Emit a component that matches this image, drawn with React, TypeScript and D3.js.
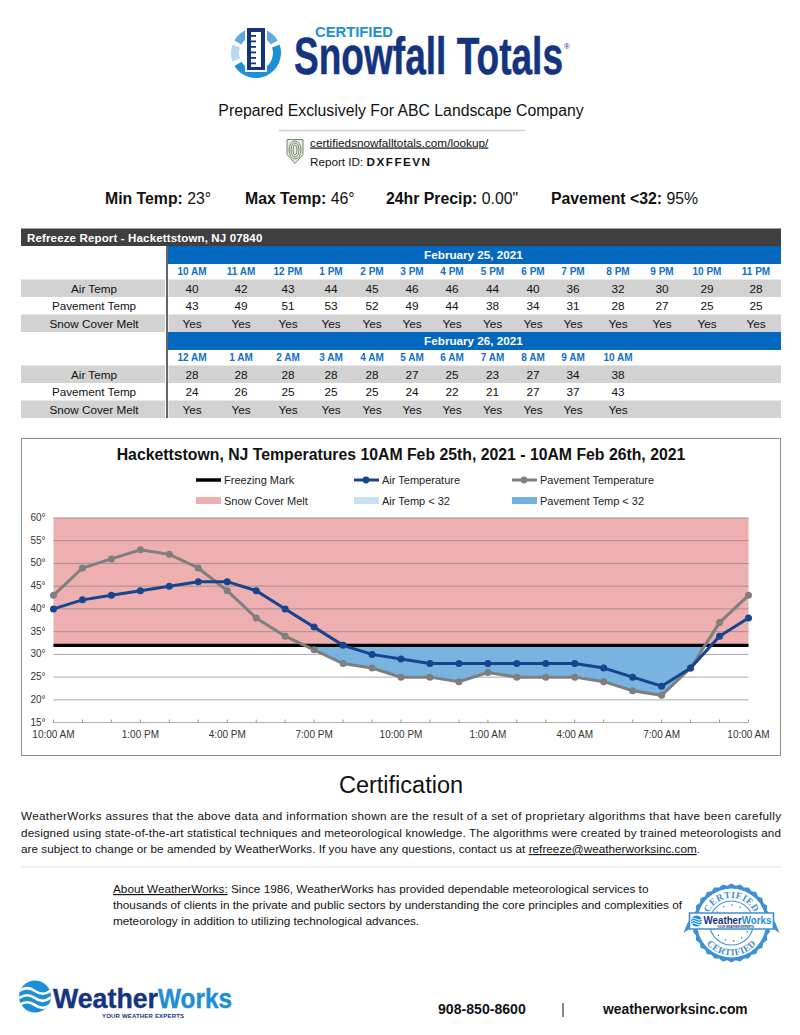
import React from "react";
import * as d3 from "d3";

const hoursAxis = d3.range(0, 25);
const xTickLabels = ["10:00 AM","1:00 PM","4:00 PM","7:00 PM","10:00 PM","1:00 AM","4:00 AM","7:00 AM","10:00 AM"];
const yTicks = [15,20,25,30,35,40,45,50,55,60];
const freezing = 32;

const labelsDay1 = ["10 AM","11 AM","12 PM","1 PM","2 PM","3 PM","4 PM","5 PM","6 PM","7 PM","8 PM","9 PM","10 PM","11 PM"];
const labelsDay2 = ["12 AM","1 AM","2 AM","3 AM","4 AM","5 AM","6 AM","7 AM","8 AM","9 AM","10 AM"];
const airDay1 = [40,42,43,44,45,46,46,44,40,36,32,30,29,28];
const pavementDay1 = [43,49,51,53,52,49,44,38,34,31,28,27,25,25];
const airDay2 = [28,28,28,28,28,27,25,23,27,34,38];
const pavementDay2 = [24,26,25,25,25,24,22,21,27,37,43];
const columnCenters = [192,241,288,331,372,412,452,492.5,533,573,618,662,707,756];

const airAll = [...airDay1, ...airDay2];
const pavementAll = [...pavementDay1, ...pavementDay2];

const x = d3.scaleLinear().domain([0, 24]).range([53.5, 748.5]);
const y = d3.scaleLinear().domain([15, 60]).range([722.6, 518]);

const sans = "Liberation Sans, Arial, sans-serif";
const GRAY = "#d2d2d2";
const BLUE = "#0568bf";
const LABELBLUE = "#0f6fc9";
const NAVY = "#15347f";
const LINE_NAVY = "#17448f";
const PAVE = "#7f7f7f";
const SKY = "#1d8fd6";

function crossing32() {
  const pts: [number, number][] = [];
  for (let i = 0; i < pavementAll.length; i++) {
    const v = pavementAll[i];
    if (i > 0) {
      const p = pavementAll[i - 1];
      if ((p - freezing) * (v - freezing) < 0) {
        pts.push([i - 1 + (freezing - p) / (v - p), freezing]);
      }
    }
    if (v < freezing) pts.push([i, v]);
  }
  return pts;
}

function TableBlock({ top, title, labels, air, pave }: any) {
  const rowLabels = ["Air Temp", "Pavement Temp", "Snow Cover Melt"];
  const rows: (string | number)[][] = [air, pave, labels.map(() => "Yes")];
  const ys = [top + 38, top + 55.5, top + 73];
  return (
    <g fontFamily={sans}>
      <rect x={168} y={top} width={613} height={18} fill={BLUE} />
      <text x={473.5} y={top + 13.2} textAnchor="middle" fontSize={11.7} fontWeight={700} fill="#fff">{title}</text>
      {labels.map((l: string, i: number) => (
        <text key={l + i} x={columnCenters[i]} y={top + 28.5} textAnchor="middle" fontSize={10} fontWeight={700} fill={LABELBLUE}>{l}</text>
      ))}
      {[0, 2].map((r) => (
        <g key={r}>
          <rect x={21} y={ys[r] - 4.5} width={144} height={17.5} fill={GRAY} />
          <rect x={168.5} y={ys[r] - 4.5} width={612.5} height={17.5} fill={GRAY} />
        </g>
      ))}
      {rowLabels.map((l, r) => (
        <text key={l} x={94} y={ys[r] + 8.5} textAnchor="middle" fontSize={11.7} fill="#111">{l}</text>
      ))}
      {rows.map((vals, r) =>
        vals.map((v, i) => (
          <text key={r + "-" + i} x={columnCenters[i]} y={ys[r] + 8.5} textAnchor="middle" fontSize={11.8} fill="#111">{v}</text>
        ))
      )}
    </g>
  );
}

function SnowfallLogo() {
  const arc = d3.arc();
  const a = (r0: number, r1: number, s: number, e: number) =>
    arc({ innerRadius: r0, outerRadius: r1, startAngle: (s * Math.PI) / 180, endAngle: (e * Math.PI) / 180 } as any) as string;
  return (
    <g>
      <g transform="translate(256,53)">
        <path d={a(17, 25, 71, 239)} fill={SKY} />
        <path d={a(17, 25, 250, 290)} fill="#b8d8f2" />
        <path d={a(17, 25, 300, 340)} fill="#5fa9e0" />
        <path d={a(17, 25, 22, 60)} fill="#5fa9e0" />
      </g>
      <rect x={245} y={27} width={22} height={45} fill="#fff" />
      <path d="M247 28h18v42h-18z M251 32v35h10V32z" fill={NAVY} fillRule="evenodd" />
      {[35, 40.5, 46, 51.5, 57, 62.5].map((ty) => <rect key={ty} x={251} y={ty} width={5} height={1.8} fill={NAVY} />)}
      <text x={315} y={37} fontFamily={sans} fontSize={14} fontWeight={700} fill={SKY} textLength={78} lengthAdjust="spacingAndGlyphs">CERTIFIED</text>
      <text x={294} y={74} fontFamily={sans} fontSize={51} fontWeight={700} fill={NAVY} stroke={NAVY} strokeWidth={0.5} textLength={269} lengthAdjust="spacingAndGlyphs">Snowfall Totals</text>
      <text x={564} y={49} fontFamily={sans} fontSize={8} fill={NAVY}>®</text>
    </g>
  );
}

function Globe({ cx, cy, r, id, sw }: any) {
  return (
    <g>
      <clipPath id={id}><circle cx={cx} cy={cy} r={r} /></clipPath>
      <circle cx={cx} cy={cy} r={r} fill={SKY} />
      <g clipPath={`url(#${id})`}>
        {[-0.42, 0.02, 0.46].map((k) => (
          <path key={k} d={`M${cx - r} ${cy + k * r + r * 0.08} q${r * 0.5} ${-r * 0.36} ${r} 0 t${r} ${-r * 0.05}`} fill="none" stroke="#fff" strokeWidth={sw} />
        ))}
      </g>
    </g>
  );
}

function Seal() {
  const cx = 731.5, cy = 923;
  const n = 56;
  const teeth = d3.range(0, n).map((i) => {
    const r = i % 2 ? 37.5 : 39.5;
    const t = (i / n) * 2 * Math.PI;
    return [cx + r * Math.cos(t), cy + r * Math.sin(t)];
  });
  return (
    <g fontFamily={sans}>
      <polygon points={teeth.map((p) => p.join(",")).join(" ")} fill="#3f8fd6" />
      <circle cx={cx} cy={cy} r={34.5} fill="#fff" />
      <circle cx={cx} cy={cy} r={22} fill="none" stroke="#3f8fd6" strokeWidth={1.1} />
      <circle cx={cx} cy={cy} r={18} fill="none" stroke="#3f8fd6" strokeWidth={1.4} strokeDasharray="1.4 7" />
      <path id="sealTop" d={`M${cx - 25} ${cy} A25 25 0 0 1 ${cx + 25} ${cy}`} fill="none" />
      <path id="sealBot" d={`M${cx - 32.5} ${cy} A32.5 32.5 0 0 0 ${cx + 32.5} ${cy}`} fill="none" />
      <text fontSize={9.5} fontWeight={700} fill="#3f8fd6" fontFamily="Liberation Serif, serif" letterSpacing={0.5}>
        <textPath href="#sealTop" startOffset="50%" textAnchor="middle">CERTIFIED</textPath>
      </text>
      <text fontSize={9.5} fontWeight={700} fill="#3f8fd6" fontFamily="Liberation Serif, serif" letterSpacing={0.5}>
        <textPath href="#sealBot" startOffset="50%" textAnchor="middle">CERTIFIED</textPath>
      </text>
      <polygon points={`${cx - 42},${cy - 10} ${cx + 42},${cy - 10} ${cx + 42},${cy + 6} ${cx - 42},${cy + 6}`} fill="#fff" stroke="#3f8fd6" strokeWidth={1.6} />
      <polygon points={`${cx - 42},${cy + 6} ${cx - 48},${cy + 10} ${cx - 44},${cy} ${cx - 42},${cy - 3}`} fill="#3f8fd6" />
      <polygon points={`${cx + 42},${cy + 6} ${cx + 48},${cy + 10} ${cx + 44},${cy} ${cx + 42},${cy - 3}`} fill="#3f8fd6" />
      <Globe cx={cx - 35} cy={cy - 2} r={5.5} id="sealGlobe" sw={1} />
      <text x={cx - 28} y={cy + 1} fontSize={11.5} fontWeight={700} fill={NAVY} textLength={68} lengthAdjust="spacingAndGlyphs">Weather<tspan fill={SKY}>Works</tspan></text>
      <text x={cx + 4} y={cy + 5} textAnchor="middle" fontSize={2.8} fontWeight={700} fill={NAVY}>YOUR WEATHER EXPERTS</text>
    </g>
  );
}

function WeatherWorksLogo() {
  return (
    <g fontFamily={sans}>
      <Globe cx={35} cy={996.5} r={16} id="mainGlobe" sw={2.6} />
      <text x={53} y={1007.5} fontSize={28} fontWeight={700} fill={NAVY} stroke={NAVY} strokeWidth={0.4} textLength={105} lengthAdjust="spacingAndGlyphs">Weather</text>
      <text x={158} y={1007.5} fontSize={28} fontWeight={700} fill={SKY} stroke={SKY} strokeWidth={0.4} textLength={74} lengthAdjust="spacingAndGlyphs">Works</text>
      <text x={102} y={1018} fontSize={6} fontWeight={700} fill={NAVY} textLength={82}>YOUR WEATHER EXPERTS</text>
    </g>
  );
}

function Chart() {
  const line = d3.line<number>().x((_, i) => x(i)).y((d) => y(d));
  const y32 = y(freezing);
  const below = crossing32();
  const belowArea = d3.line<[number, number]>().x((d) => x(d[0])).y((d) => y(d[1]))(below) + "Z";
  const legendText = { fontSize: 11, fill: "#222" };
  return (
    <g fontFamily={sans}>
      <rect x={21.5} y={438.5} width={759} height={317} fill="#fff" stroke="#8c8c8c" strokeWidth={1} />
      <text x={401} y={460} textAnchor="middle" fontSize={15.8} fontWeight={700} fill="#111">Hackettstown, NJ Temperatures 10AM Feb 25th, 2021 - 10AM Feb 26th, 2021</text>

      <line x1={196} x2={221} y1={480} y2={480} stroke="#000" strokeWidth={3.5} />
      <text x={224} y={483.5} {...legendText}>Freezing Mark</text>
      <rect x={196} y={497} width={25} height={7} fill="#edafaf" />
      <text x={224} y={505} {...legendText}>Snow Cover Melt</text>
      <line x1={354} x2={379} y1={480} y2={480} stroke={LINE_NAVY} strokeWidth={3} />
      <circle cx={366} cy={480} r={3.4} fill={LINE_NAVY} />
      <text x={382} y={483.5} {...legendText}>Air Temperature</text>
      <rect x={354} y={497} width={25} height={7} fill="#c9dff3" />
      <text x={382} y={505} {...legendText}>Air Temp &lt; 32</text>
      <line x1={512} x2={537} y1={480} y2={480} stroke={PAVE} strokeWidth={3} />
      <circle cx={524} cy={480} r={3.4} fill={PAVE} />
      <text x={540} y={483.5} {...legendText}>Pavement Temperature</text>
      <rect x={512} y={497} width={25} height={7} fill="#74b0de" />
      <text x={540} y={505} {...legendText}>Pavement Temp &lt; 32</text>

      <rect x={x(0)} y={y(60)} width={x(24) - x(0)} height={y32 - y(60)} fill="#edafaf" />
      {yTicks.map((t) => (
        <g key={t}>
          {t > 15 && <line x1={x(0)} x2={x(24)} y1={y(t)} y2={y(t)} stroke={t > 32 ? "#ab8b8b" : "#ababab"} strokeWidth={1} />}
          <text x={45.5} y={y(t) + 3} textAnchor="end" fontSize={10} fill="#333">{t}°</text>
        </g>
      ))}
      <path d={belowArea} fill="#74b0de" fillOpacity={0.96} />
      <line x1={x(0)} x2={x(24)} y1={y(15)} y2={y(15)} stroke="#ababab" strokeWidth={1} />
      {hoursAxis.map((h) => (
        <line key={h} x1={x(h)} x2={x(h)} y1={y(15) - 3} y2={y(15)} stroke="#999" strokeWidth={1} />
      ))}
      {xTickLabels.map((l, i) => (
        <text key={i} x={x(i * 3)} y={738} textAnchor="middle" fontSize={10} fill="#333">{l}</text>
      ))}
      <line x1={x(0)} x2={x(24)} y1={y32} y2={y32} stroke="#000" strokeWidth={3.3} />

      <path d={line(pavementAll) as string} fill="none" stroke={PAVE} strokeWidth={3} />
      {pavementAll.map((v, i) => <circle key={i} cx={x(i)} cy={y(v)} r={3.5} fill={PAVE} />)}
      <path d={line(airAll) as string} fill="none" stroke={LINE_NAVY} strokeWidth={3} />
      {airAll.map((v, i) => <circle key={i} cx={x(i)} cy={y(v)} r={3.5} fill={LINE_NAVY} />)}
    </g>
  );
}

export default function App() {
  const para = [
    "WeatherWorks assures that the above data and information shown are the result of a set of proprietary algorithms that have been carefully",
    "designed using state-of-the-art statistical techniques and meteorological knowledge. The algorithms were created by trained meteorologists and",
  ];
  return (
    <svg width={800} height={1035} viewBox="0 0 800 1035" style={{ position: "absolute", left: 0, top: 0, background: "#fff" }}>
      <SnowfallLogo />
      <g fontFamily={sans} fill="#111">
        <text x={401} y={116} textAnchor="middle" fontSize={15.8}>Prepared Exclusively For ABC Landscape Company</text>
        <line x1={279} x2={525} y1={130.5} y2={130.5} stroke="#cfcfcf" strokeWidth={1.4} />
        <path d="M287 139.5h16v15l-8 9l-8-9z" fill="#e6ecdf" stroke="#6f8a68" strokeWidth={1} />
        {[2, 4, 6].map((r) => <ellipse key={r} cx={295} cy={150} rx={r} ry={r + 3} fill="none" stroke="#5c7558" strokeWidth={0.8} />)}
        <text x={310} y={146.5} fontSize={11.75} textDecoration="underline">certifiedsnowfalltotals.com/lookup/</text>
        <text x={310} y={166} fontSize={11.7}>Report ID: <tspan fontWeight={700} letterSpacing={1.5}>DXFFEVN</tspan></text>
        <text y={204} fontSize={15.8}>
          <tspan x={105} fontWeight={700}>Min Temp:</tspan><tspan> 23°</tspan>
          <tspan x={245} fontWeight={700}>Max Temp:</tspan><tspan> 46°</tspan>
          <tspan x={386} fontWeight={700}>24hr Precip:</tspan><tspan> 0.00"</tspan>
          <tspan x={551} fontWeight={700}>Pavement &lt;32:</tspan><tspan> 95%</tspan>
        </text>
      </g>

      <rect x={21} y={228.5} width={760} height={17.5} fill="#3f3f3f" />
      <text x={27} y={241.5} fontFamily={sans} fontSize={11.5} fontWeight={700} fill="#fff" letterSpacing={0.15}>Refreeze Report - Hackettstown, NJ 07840</text>
      <TableBlock top={246} title="February 25, 2021" labels={labelsDay1} air={airDay1} pave={pavementDay1} />
      <TableBlock top={332} title="February 26, 2021" labels={labelsDay2} air={airDay2} pave={pavementDay2} />
      <line x1={167} x2={167} y1={246} y2={418} stroke="#3f3f3f" strokeWidth={1.6} />

      <Chart />

      <g fontFamily={sans} fill="#111">
        <text x={401} y={793} textAnchor="middle" fontSize={23.5}>Certification</text>
        {para.map((t, i) => (
          <text key={i} x={21} y={820 + i * 16.5} fontSize={11.7} textLength={760} lengthAdjust="spacing">{t}</text>
        ))}
        <text x={21} y={853} fontSize={11.7} textLength={679} lengthAdjust="spacing">are subject to change or be amended by WeatherWorks. If you have any questions, contact us at <tspan textDecoration="underline">refreeze@weatherworksinc.com</tspan>.</text>
        <line x1={21} x2={781} y1={867} y2={867} stroke="#e2e2e2" strokeWidth={1.2} />
        <text x={113} y={893} fontSize={11.78}><tspan textDecoration="underline">About WeatherWorks:</tspan> Since 1986, WeatherWorks has provided dependable meteorological services to</text>
        <text x={113} y={909} fontSize={11.78}>thousands of clients in the private and public sectors by understanding the core principles and complexities of</text>
        <text x={113} y={925} fontSize={11.78}>meteorology in addition to utilizing technological advances.</text>
        <text x={438} y={1014} fontSize={14.1} fontWeight={700}>908-850-8600</text>
        <line x1={563} x2={563} y1={1003} y2={1017} stroke="#111" strokeWidth={1} />
        <text x={603} y={1014} fontSize={13.85} fontWeight={700}>weatherworksinc.com</text>
      </g>
      <Seal />
      <WeatherWorksLogo />
    </svg>
  );
}
